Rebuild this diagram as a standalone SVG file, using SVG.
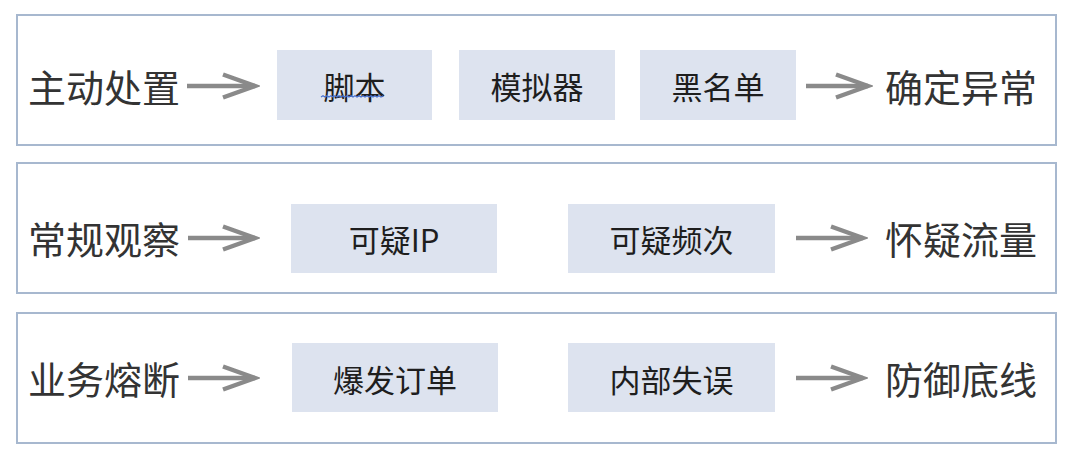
<svg xmlns="http://www.w3.org/2000/svg" width="1080" height="463" viewBox="0 0 1080 463">
<defs>
<style>
.frame{fill:#ffffff;stroke:#a7b8cf;stroke-width:2}
.box{fill:#dde3ef}
.lbl{font-family:"Noto Sans CJK SC","Noto Sans",sans-serif;font-size:38px;fill:#333333;dominant-baseline:central}
.btxt{font-family:"Noto Sans CJK SC","Noto Sans",sans-serif;font-size:31px;fill:#1e1e1e;text-anchor:middle;dominant-baseline:central}
.conn{stroke:#8a8a8a;stroke-width:4.5;fill:none;marker-end:url(#chev)}
</style>
<marker id="chev" markerUnits="userSpaceOnUse" markerWidth="40" markerHeight="30" viewBox="0 0 40 30" refX="35" refY="15" orient="auto">
<path d="M3,3.5 L35,15 L3,26.5" fill="none" stroke="#8a8a8a" stroke-width="4.5" stroke-linejoin="miter"/>
</marker>
</defs>
<rect width="1080" height="463" fill="#ffffff"/>
<g id="row1">
<rect class="frame" x="17" y="15" width="1039" height="130"/>
<g id="n-zhudong"><text class="lbl" x="28" y="85">主动处置</text></g>
<g id="n-jiaoben"><rect class="box" x="277" y="50" width="155" height="70"/><text class="btxt" x="354.5" y="85">脚本</text>
<path d="M321,97 l2,-1.2 2,1.2 2,-1.2 2,1.2 2,-1.2 2,1.2 2,-1.2 2,1.2 2,-1.2 2,1.2 2,-1.2 2,1.2 2,-1.2 2,1.2 2,-1.2 2,1.2 2,-1.2 2,1.2 2,-1.2 2,1.2 2,-1.2 2,1.2 2,-1.2 2,1.2 2,-1.2 2,1.2 2,-1.2 2,1.2 2,-1.2 2,1.2 2,-1.2" fill="none" stroke="#4a72d0" stroke-width="1.3"/></g>
<g id="n-moniqi"><rect class="box" x="459" y="50" width="156" height="70"/><text class="btxt" x="537" y="85">模拟器</text></g>
<g id="n-heimingdan"><rect class="box" x="640" y="50" width="156" height="70"/><text class="btxt" x="718" y="85">黑名单</text></g>
<g id="n-queding"><text class="lbl" x="885" y="85">确定异常</text></g>
</g>
<g id="row2">
<rect class="frame" x="17" y="163" width="1039" height="130"/>
<g id="n-changgui"><text class="lbl" x="28" y="237">常规观察</text></g>
<g id="n-keyiip"><rect class="box" x="291" y="204" width="206" height="69"/><text class="btxt" x="394" y="238">可疑IP</text></g>
<g id="n-keyipinci"><rect class="box" x="568" y="204" width="207" height="69"/><text class="btxt" x="671.5" y="238">可疑频次</text></g>
<g id="n-huaiyi"><text class="lbl" x="885" y="237">怀疑流量</text></g>
</g>
<g id="row3">
<rect class="frame" x="17" y="313" width="1039" height="130"/>
<g id="n-yewu"><text class="lbl" x="28" y="377">业务熔断</text></g>
<g id="n-baofa"><rect class="box" x="292" y="343" width="206" height="69"/><text class="btxt" x="395" y="378">爆发订单</text></g>
<g id="n-neibu"><rect class="box" x="568" y="343" width="207" height="69"/><text class="btxt" x="671.5" y="378">内部失误</text></g>
<g id="n-fangyu"><text class="lbl" x="885" y="377">防御底线</text></g>
</g>
<g id="connectors">
<line class="conn" x1="187" y1="86" x2="255" y2="86"/>
<line class="conn" x1="806" y1="86" x2="868" y2="86"/>
<line class="conn" x1="188" y1="238" x2="255" y2="238"/>
<line class="conn" x1="796" y1="238" x2="863" y2="238"/>
<line class="conn" x1="188" y1="378" x2="255" y2="378"/>
<line class="conn" x1="796" y1="378" x2="863" y2="378"/>
</g>
</svg>
